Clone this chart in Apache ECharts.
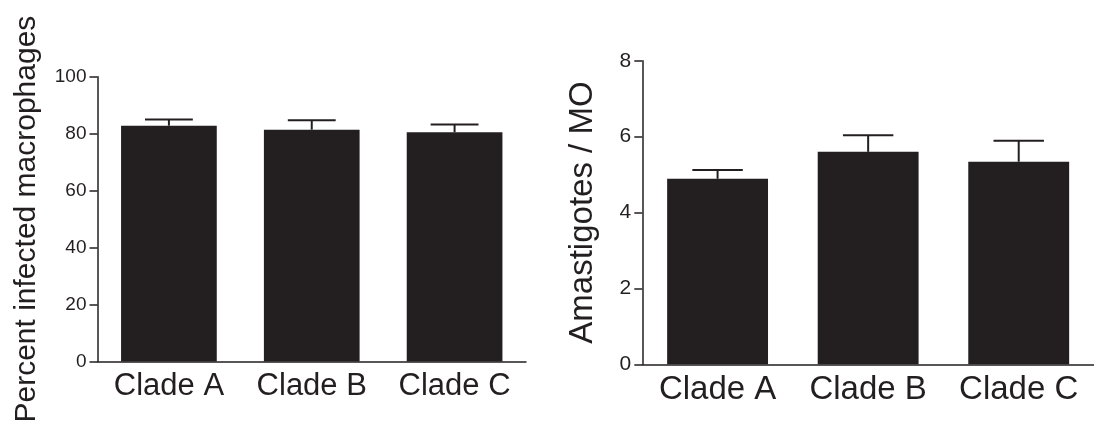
<!DOCTYPE html>
<html>
<head>
<meta charset="utf-8">
<script src="https://cdn.jsdelivr.net/npm/echarts@6/dist/echarts.min.js"></script>
<style>
  html, body { margin: 0; padding: 0; background: #fff; }
  #chart { width: 1094px; height: 428px; }
</style>
</head>
<body>
<div id="chart"></div>
<script>
// Groups shared by both panels
const clades = ['Clade A', 'Clade B', 'Clade C'];

// Panel 1: percent infected macrophages (mean and SEM)
const infectedMean = [82.8, 81.4, 80.5];
const infectedErr = [2.2, 3.3, 2.7];
const infectedTicks = { min: 0, max: 100, interval: 20 };

// Panel 2: amastigotes per macrophage (mean and SEM)
const amastMean = [4.89, 5.60, 5.34];
const amastErr = [0.23, 0.44, 0.55];
const amastTicks = { min: 0, max: 8, interval: 2 };

const INK = '#231f20';
const FONT = 'Liberation Sans, Arial, Helvetica, sans-serif';
const BAR_RATIO = 0.67;

function errorData(means, errs) {
  return means.map((m, i) => [i, m, errs[i]]);
}

// Upper error bar: stem from the bar top to a cap half the bar's width
function renderError(params, api) {
  const idx = api.value(0);
  const mean = api.value(1);
  const err = api.value(2);
  const base = api.coord([idx, mean]);
  const top = api.coord([idx, mean + err]);
  const half = api.size([1, 0])[0] * BAR_RATIO / 4;
  const style = { stroke: INK, lineWidth: 2, fill: null };
  return {
    type: 'group',
    children: [
      { type: 'line', shape: { x1: base[0], y1: base[1], x2: top[0], y2: top[1] }, style },
      { type: 'line', shape: { x1: top[0] - half, y1: top[1], x2: top[0] + half, y2: top[1] }, style }
    ]
  };
}

function xAxisFor(gridIndex, fontSize) {
  return {
    type: 'category',
    gridIndex,
    data: clades,
    axisLine: { lineStyle: { color: INK, width: 1.5 } },
    axisTick: { show: false },
    axisLabel: {
      color: INK, fontFamily: FONT, fontSize, margin: 9,
      interval: 0, hideOverlap: false
    }
  };
}

function yAxisFor(gridIndex, ticks, name, nameSize, nameGap, labelSize) {
  return {
    type: 'value',
    gridIndex,
    min: ticks.min,
    max: ticks.max,
    interval: ticks.interval,
    name,
    nameLocation: 'middle',
    nameGap,
    nameTextStyle: { color: INK, fontFamily: FONT, fontSize: nameSize },
    axisLine: { show: true, lineStyle: { color: INK, width: 1.5 } },
    axisTick: { show: true, inside: false, length: 8, lineStyle: { color: INK, width: 1.5 } },
    axisLabel: { color: INK, fontFamily: FONT, fontSize: labelSize, margin: 11 },
    splitLine: { show: false }
  };
}

const chart = echarts.init(document.getElementById('chart'), null, { renderer: 'canvas' });

chart.setOption({
  backgroundColor: '#ffffff',
  animation: false,
  grid: [
    { left: 97.5, right: 568, top: 76.7, bottom: 66.5 },
    { left: 642.3, right: -6, top: 60.8, bottom: 63.7 }
  ],
  xAxis: [xAxisFor(0, 31), xAxisFor(1, 33)],
  yAxis: [
    yAxisFor(0, infectedTicks, 'Percent infected macrophages', 30, 56, 19),
    yAxisFor(1, amastTicks, 'Amastigotes / MO', 33, 43, 21)
  ],
  series: [
    {
      type: 'bar', xAxisIndex: 0, yAxisIndex: 0,
      data: infectedMean, barWidth: (BAR_RATIO * 100) + '%',
      itemStyle: { color: INK }
    },
    {
      type: 'custom', xAxisIndex: 0, yAxisIndex: 0,
      data: errorData(infectedMean, infectedErr), renderItem: renderError, z: 3
    },
    {
      type: 'bar', xAxisIndex: 1, yAxisIndex: 1,
      data: amastMean, barWidth: (BAR_RATIO * 100) + '%',
      itemStyle: { color: INK }
    },
    {
      type: 'custom', xAxisIndex: 1, yAxisIndex: 1,
      data: errorData(amastMean, amastErr), renderItem: renderError, z: 3
    }
  ]
});
</script>
</body>
</html>
